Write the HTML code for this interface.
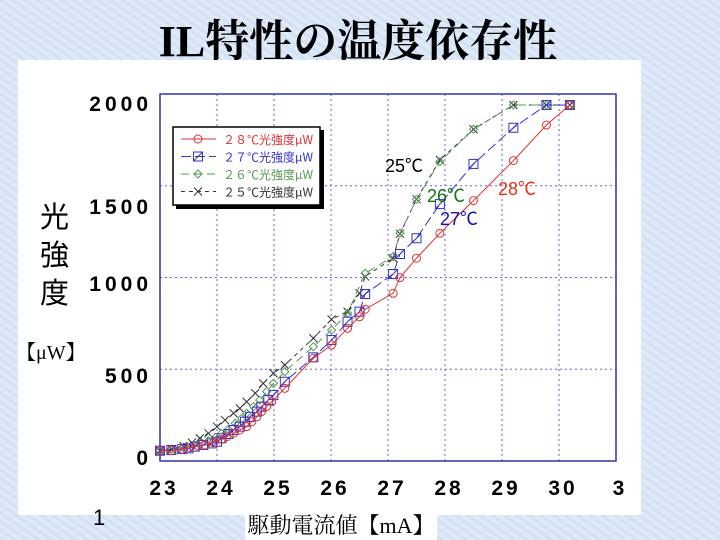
<!DOCTYPE html>
<html><head><meta charset="utf-8"><style>
body{margin:0;width:720px;height:540px;overflow:hidden;background:#d6e4f5;font-family:"Liberation Sans","Noto Sans CJK JP",sans-serif}
#bg{position:absolute;left:0;top:0;width:720px;height:540px;background:repeating-linear-gradient(35deg,#d2e1f4 0 3px,#dfeaf8 3px 7px)}
.t{position:absolute;white-space:nowrap}
</style></head><body>
<div id="bg"></div>
<div class="t" style="left:0;width:716px;text-align:center;top:5px;font:bold 44px 'Liberation Serif','Noto Serif CJK SC',serif;">IL特性の温度依存性</div>
<div style="position:absolute;left:18px;top:60px;width:623px;height:455px;background:#fff"></div>
<div class="t" style="left:245px;top:511px;width:192px;height:29px;background:#fff;font:22px 'Liberation Serif','Noto Serif CJK JP',serif;text-align:center;line-height:29px">駆動電流値【mA】</div>
<div class="t" style="left:40px;top:196px;font:29px 'Noto Sans CJK JP',sans-serif;line-height:38px;width:32px">光<br>強<br>度</div>
<div class="t" style="left:16px;top:336px;font:20px 'Liberation Serif','Noto Serif CJK JP',serif">【μW】</div>
<div class="t" style="left:93px;top:505px;font:22px 'Liberation Sans',sans-serif">1</div>
<svg id="c" width="720" height="540" style="position:absolute;left:0;top:0"></svg>
<script>
const xTicks=[23,24,25,26,27,28,29,30,31];
const xTickLabels=["23","24","25","26","27","28","29","30","3"];
const yTickLabels=["0","500","1000","1500","2000"];
const yTickLabelY=[457,375,283,206,103];
const x28=[23,23.2,23.39,23.53,23.67,23.79,23.94,24.08,24.17,24.29,24.4,24.52,24.61,24.7,24.78,24.87,24.96,25.19,25.69,26.01,26.29,26.5,26.6,27.09,27.21,27.5,27.91,28.5,29.2,29.78,30.19];
const y28=[56,56,64,73,82,87,100,118,132,151,169,187,214,241,269,296,323,396,560,632,723,786,827,914,999,1105,1241,1419,1637,1831,1940];
const x27=[23,23.2,23.39,23.5,23.61,23.76,23.91,24,24.08,24.2,24.29,24.4,24.49,24.58,24.7,24.78,24.9,24.99,25.19,25.69,26.01,26.29,26.5,26.6,27.09,27.21,27.5,27.91,28.5,29.2,29.78,30.19];
const y27=[56,60,65,69,78,87,96,105,124,147,169,187,214,241,269,296,332,360,432,565,659,759,814,910,1019,1128,1214,1400,1619,1816,1940,1940];
const x26=[23,23.2,23.41,23.59,23.73,23.85,23.97,24.08,24.2,24.32,24.43,24.52,24.64,24.75,24.87,24.99,25.19,25.69,26.01,26.29,26.6,27.09,27.21,27.5,27.91,28.5,29.2,29.78,30.19];
const y26=[56,64,75,87,100,111,129,151,173,205,232,260,296,332,378,423,487,623,714,805,1023,1114,1241,1426,1632,1808,1940,1940,1940];
const x25=[23,23.2,23.41,23.56,23.7,23.85,24,24.14,24.29,24.4,24.52,24.67,24.81,24.99,25.19,25.69,26.01,26.29,26.5,26.6,27.09,27.21,27.5,27.91,28.5,29.2,29.78,30.19];
const y25=[56,64,82,100,124,151,187,223,260,287,323,369,423,478,523,669,772,814,914,1005,1105,1238,1426,1641,1808,1940,1940,1940];
const X=v=>160+(v-23)*57, Y=v=>461-v*367/2000;
const svg=document.getElementById('c'),NS='http://www.w3.org/2000/svg';
function mk(t,a,p){const e=document.createElementNS(NS,t);for(const k in a)e.setAttribute(k,a[k]);(p||svg).appendChild(e);return e;}
xTicks.slice(1,-1).forEach(v=>{const l=mk('line',{x1:X(v),x2:X(v),y1:94,y2:461,stroke:'#6666cc','stroke-dasharray':'2,3','stroke-width':1});
});
[500,1000,1500].forEach(v=>{const l=mk('line',{x1:160,x2:616,y1:Y(v),y2:Y(v),stroke:'#6666cc','stroke-dasharray':'2,3','stroke-width':1});
});
const fr=mk('rect',{x:160,y:94,width:456,height:367,fill:'none',stroke:'#3333aa','stroke-width':1.5});

xTicks.forEach((v,i)=>{const t=mk('text',{x:X(v)+4,y:495,'text-anchor':'middle','font-size':21,'font-weight':'bold','letter-spacing':3,'font-family':'Liberation Sans'});t.textContent=xTickLabels[i];
});
yTickLabels.forEach((s,i)=>{const t=mk('text',{x:152,y:yTickLabelY[i]+8,'text-anchor':'end','font-size':21,'font-weight':'bold','letter-spacing':4,'font-family':'Liberation Sans'});t.textContent=s;
});
function marker(g,type,cx,cy,col){
 if(type=='o')mk('circle',{cx,cy,r:4,fill:'none',stroke:col},g);
 else if(type=='s'){mk('rect',{x:cx-4.5,y:cy-4.5,width:9,height:9,fill:'none',stroke:col},g);mk('line',{x1:cx-4,y1:cy+4,x2:cx+4,y2:cy-4,stroke:col},g);}
 else if(type=='d')mk('path',{d:`M${cx-4} ${cy}L${cx} ${cy-4}L${cx+4} ${cy}L${cx} ${cy+4}Z`,fill:'none',stroke:col},g);
 else mk('path',{d:`M${cx-4} ${cy-4}L${cx+4} ${cy+4}M${cx-4} ${cy+4}L${cx+4} ${cy-4}`,stroke:col},g);
}
const series=[[x25,y25,'#333','x','4,4','series-25c'],[x26,y26,'#559955','d','8,5','series-26c'],[x27,y27,'#3333cc','s','10,4','series-27c'],[x28,y28,'#dd3333','o','','series-28c']];
series.forEach(([xs,ys,col,m,dash,name])=>{
 const g=mk('g',{});
 mk('polyline',{points:xs.map((v,i)=>X(v)+','+Y(ys[i])).join(' '),fill:'none',stroke:col,'stroke-width':1,'stroke-dasharray':dash},g);
 xs.forEach((v,i)=>marker(g,m,X(v),Y(ys[i]),col));
});
const lg=mk('g',{});
mk('rect',{x:176,y:130,width:148,height:79,fill:'#000'},lg);
mk('rect',{x:173,y:127,width:147,height:78,fill:'#fff',stroke:'#000','stroke-width':1.5},lg);
const legendLabels=['２８℃光強度μW','２７℃光強度μW','２６℃光強度μW','２５℃光強度μW'];
[3,2,1,0].forEach((si,i)=>{const s=series[si];const y=139+i*17.5;
 const e=mk('g',{},lg);
 mk('line',{x1:181,x2:216,y1:y,y2:y,stroke:s[2],'stroke-dasharray':s[4]},e);marker(e,s[3],198,y,s[2]);
 const t=mk('text',{x:223,y:y+5,'font-size':12,fill:s[2],'font-family':'Noto Sans CJK JP'},e);t.textContent=legendLabels[i];});
[['25℃',385,172,'#000'],['26℃',427,202,'#117711'],['27℃',440,225,'#1111bb'],['28℃',498,195,'#ee3311']].forEach(a=>{
 const t=mk('text',{x:a[1],y:a[2],'font-size':18,fill:a[3],'font-family':'Liberation Sans,Noto Sans CJK JP'});t.textContent=a[0];
 });
</script>
</body></html>
